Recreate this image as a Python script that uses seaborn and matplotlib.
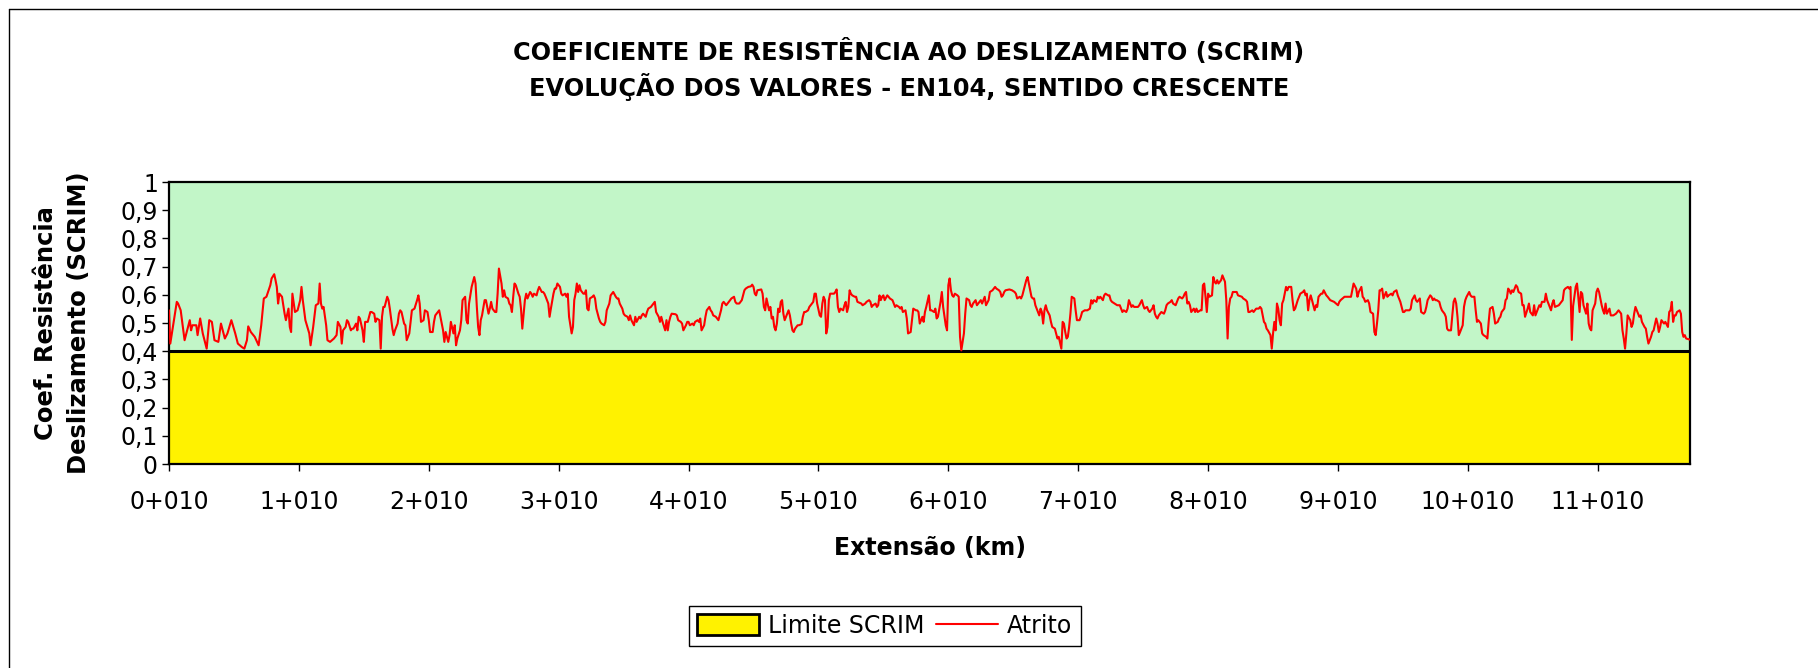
import matplotlib
matplotlib.use("Agg")
import matplotlib.pyplot as plt
from matplotlib.lines import Line2D
from matplotlib.patches import Patch
import pandas as pd
import seaborn as sns

# Chart texts
TITLE_1 = "COEFICIENTE DE RESISTÊNCIA AO DESLIZAMENTO (SCRIM)"
TITLE_2 = "EVOLUÇÃO DOS VALORES - EN104, SENTIDO CRESCENTE"
Y_LABEL = "Coef. Resistência\nDeslizamento (SCRIM)"
X_LABEL = "Extensão (km)"

# SCRIM threshold (yellow area)
LIMITE_SCRIM = 0.4

# Chainage (m) of the readings
chainage_m = [
    10, 20, 70, 80, 100, 130, 170, 180, 190, 220,
    230, 250, 270, 300, 320, 340, 360, 390, 410, 440,
    460, 490, 520, 540, 570, 590, 610, 620, 640, 670,
    700, 720, 740, 760, 790, 800, 820, 830, 840, 850,
    860, 880, 900, 910, 930, 940, 950, 960, 980, 1000,
    1020, 1030, 1040, 1050, 1060,
    1090, 1100, 1120, 1140, 1160, 1170, 1180, 1190, 1200, 1220,
    1230, 1250, 1280, 1300, 1310, 1330, 1340, 1350, 1370, 1380,
    1390, 1410, 1420, 1430, 1450, 1460, 1470, 1480, 1500, 1510,
    1520, 1540, 1560, 1570, 1590, 1600, 1610, 1630, 1640, 1650,
    1660, 1670, 1690, 1700, 1710, 1730, 1740, 1750, 1770, 1780,
    1790, 1800, 1820, 1830, 1840, 1860, 1880, 1900, 1920, 1930,
    1940, 1950, 1970, 1980, 2000, 2010, 2020, 2040, 2050, 2060,
    2070, 2090, 2100, 2120, 2130, 2140,
    2160, 2170, 2180, 2200, 2210, 2220, 2230, 2250, 2260, 2270,
    2290, 2300, 2310, 2320, 2340, 2360, 2370, 2380, 2390, 2400,
    2410, 2420, 2440, 2450, 2470, 2480, 2490, 2500, 2520, 2530,
    2540, 2550, 2570, 2580, 2590, 2600, 2620, 2630, 2640, 2650,
    2660, 2670, 2680, 2700, 2710, 2720, 2730, 2750, 2760, 2770,
    2790, 2800, 2810, 2820, 2840, 2850, 2860, 2880, 2890, 2900,
    2910, 2930, 2940, 2950, 2970, 2980, 2990, 3000, 3020, 3030,
    3040, 3060, 3070, 3080, 3090, 3110, 3120, 3130, 3140, 3150,
    3160, 3170, 3180, 3200, 3210,
    3220, 3230, 3240, 3250, 3270, 3280, 3290, 3300, 3320, 3330,
    3340, 3360, 3370, 3380, 3400, 3410, 3420, 3430, 3450, 3460,
    3470, 3480, 3500, 3510, 3520, 3540, 3550, 3560, 3570, 3590,
    3600, 3610, 3630, 3640, 3650, 3660, 3680, 3690, 3700, 3720,
    3730, 3740, 3750, 3760, 3780, 3790, 3800, 3810, 3830, 3840,
    3850, 3860, 3870, 3880, 3910, 3920, 3930, 3950, 3960, 3970,
    3990, 4000, 4010, 4020, 4040, 4050, 4060, 4080, 4090, 4100,
    4110, 4130, 4140, 4150, 4170, 4180, 4190, 4200, 4220, 4230,
    4240, 4260, 4270, 4280,
    4300, 4310, 4320, 4340, 4360, 4370, 4380, 4400, 4420, 4440,
    4450, 4470, 4490, 4500, 4510, 4520, 4530, 4540, 4570, 4580,
    4590, 4600, 4610, 4630, 4640, 4650, 4660, 4670, 4680, 4690,
    4700, 4710, 4720, 4730, 4740, 4750, 4770, 4780, 4790, 4800,
    4810, 4820, 4830, 4850, 4860, 4880, 4890, 4900, 4910, 4930,
    4940, 4950, 4970, 4980, 4990, 5000, 5020, 5030, 5040, 5050,
    5060, 5070, 5080, 5090, 5100, 5130, 5140, 5150, 5160, 5170,
    5180, 5200, 5210, 5220, 5230, 5240, 5250, 5260, 5270, 5290,
    5300, 5310, 5340, 5350,
    5370, 5380, 5400, 5410, 5420, 5430, 5450, 5460, 5470, 5480,
    5490, 5500, 5510, 5520, 5540, 5550, 5560, 5580, 5590, 5600,
    5610, 5630, 5640, 5650, 5660, 5680, 5690, 5700, 5720, 5730,
    5740, 5760, 5770, 5780, 5790, 5810, 5820, 5830, 5840, 5860,
    5870, 5880, 5900, 5910, 5920, 5930, 5950, 5960, 5970, 5990,
    6000, 6010, 6020, 6030, 6040, 6050, 6060, 6080, 6090, 6100,
    6110, 6130, 6140, 6150, 6170, 6180, 6190, 6200, 6220, 6230,
    6240, 6260, 6270, 6280, 6290, 6300, 6320, 6330, 6350, 6360,
    6370, 6380, 6400, 6410, 6420,
    6430, 6440, 6450, 6480, 6500, 6520, 6530, 6540, 6560, 6570,
    6580, 6590, 6610, 6620, 6630, 6640, 6650, 6660, 6670, 6680,
    6700, 6710, 6720, 6730, 6740, 6750, 6760, 6770, 6790, 6800,
    6810, 6830, 6840, 6850, 6860, 6880, 6890, 6900, 6910, 6920,
    6930, 6940, 6950, 6960, 6980, 6990, 7000, 7020, 7030, 7040,
    7060, 7080, 7100, 7110, 7120, 7130, 7150, 7160, 7170, 7180,
    7200, 7210, 7220, 7240, 7250, 7260, 7270, 7290, 7310, 7330,
    7340, 7350, 7360, 7380, 7390, 7400, 7420, 7430, 7440, 7470,
    7480, 7500,
    7510, 7520, 7540, 7550, 7560, 7580, 7590, 7600, 7610, 7620,
    7630, 7640, 7650, 7670, 7680, 7690, 7700, 7720, 7730, 7740,
    7760, 7770, 7780, 7790, 7810, 7820, 7830, 7840, 7850, 7860,
    7870, 7880, 7900, 7910, 7920, 7930, 7950, 7960, 7970, 7980,
    7990, 8000, 8010, 8020, 8040, 8050, 8060, 8070, 8080, 8090,
    8110, 8120, 8130, 8140, 8150, 8160, 8170, 8180, 8190, 8200,
    8230, 8240, 8270, 8280, 8300, 8310, 8320, 8330, 8350, 8360,
    8370, 8380, 8400, 8410, 8420, 8440, 8450, 8460, 8470, 8490,
    8500, 8510, 8520, 8530, 8540, 8550, 8560, 8570,
    8580, 8590, 8610, 8620, 8630, 8650, 8660, 8670, 8680, 8700,
    8710, 8720, 8740, 8750, 8760, 8770, 8780, 8790, 8800, 8810,
    8830, 8840, 8850, 8860, 8880, 8890, 8900, 8920, 8930, 8950,
    8980, 9010, 9020, 9030, 9060, 9110, 9120, 9130, 9150, 9160,
    9170, 9190, 9200, 9210, 9220, 9240, 9250, 9260, 9280, 9290,
    9300, 9310, 9320, 9330, 9340, 9350, 9360, 9380, 9390, 9400,
    9420, 9430, 9440, 9460, 9470, 9480, 9490, 9510, 9520, 9530,
    9560, 9570, 9580, 9600, 9610, 9620, 9640,
    9650, 9670, 9680, 9690, 9700, 9720, 9730, 9740, 9750, 9760,
    9770, 9790, 9800, 9810, 9830, 9840, 9850, 9860, 9880, 9890,
    9900, 9910, 9920, 9930, 9940, 9950, 9970, 9980, 9990, 10000,
    10020, 10030, 10040, 10060, 10070, 10080, 10090, 10110, 10120, 10130,
    10150, 10160, 10170, 10180, 10200, 10210, 10220, 10240, 10250, 10260,
    10270, 10290, 10300, 10310, 10320, 10330, 10340, 10350, 10360, 10380,
    10390, 10400, 10420, 10430, 10440, 10450, 10470, 10480, 10490, 10510,
    10520, 10530, 10540, 10560, 10570, 10580, 10600, 10610, 10620, 10630,
    10650, 10660, 10670, 10680, 10710,
    10720, 10740, 10750, 10760, 10780, 10790, 10800, 10810, 10820, 10830,
    10840, 10850, 10860, 10870, 10880, 10890, 10900, 10920, 10930, 10940,
    10950, 10960, 10970, 10990, 11000, 11010, 11020, 11040, 11050, 11060,
    11070, 11080, 11100, 11110, 11130, 11150, 11170, 11190, 11200, 11210,
    11220, 11230, 11240, 11260, 11270, 11280, 11290, 11300, 11310, 11330,
    11340, 11350, 11370, 11380, 11390, 11400, 11420, 11430, 11440, 11460,
    11470, 11480, 11490, 11500, 11520, 11530, 11550, 11560, 11570, 11580,
    11590, 11600, 11610, 11620, 11640, 11650, 11660, 11670, 11680, 11690,
    11720,
]

# "Atrito" readings (friction coefficient), same order as chainage_m
atrito = [
    .545, .427, .575, .569, .545, .439, .510, .474, .492, .492,
    .457, .516, .463, .409, .510, .504, .439, .433, .498, .445,
    .463, .510, .463, .427, .415, .409, .439, .488, .468, .451,
    .421, .492, .587, .593, .634, .658, .673, .652, .628, .569,
    .604, .593, .533, .510, .551, .486, .468, .604, .539, .545,
    .581, .628, .581, .545, .510,
    .463, .421, .486, .563, .569, .640, .569, .551, .557, .492,
    .439, .433, .445, .457, .504, .486, .427, .474, .486, .510,
    .504, .474, .480, .480, .498, .474, .522, .516, .474, .433,
    .504, .504, .539, .539, .533, .504, .516, .510, .409, .522,
    .557, .557, .593, .581, .551, .480, .457, .474, .498, .533,
    .545, .539, .498, .492, .439, .463, .545, .551, .581, .598,
    .569, .504, .510, .545, .539, .510, .468, .468, .504, .527,
    .533, .545, .522, .474, .433, .468,
    .433, .457, .504, .463, .492, .421, .445, .474, .510, .581,
    .593, .510, .498, .569, .628, .663, .640, .557, .486, .457,
    .510, .527, .581, .581, .533, .551, .575, .551, .539, .539,
    .604, .693, .640, .593, .616, .593, .587, .569, .563, .539,
    .593, .640, .634, .604, .593, .551, .480, .581, .604, .587,
    .610, .604, .593, .604, .598, .616, .628, .610, .610, .604,
    .593, .569, .522, .551, .604, .622, .622, .640, .628, .604,
    .598, .604, .593, .604, .522, .463, .486, .581, .604, .640,
    .610, .634, .616, .604, .604,
    .616, .551, .545, .587, .593, .598, .587, .551, .516, .504,
    .498, .492, .504, .545, .569, .598, .604, .610, .593, .587,
    .587, .569, .551, .533, .527, .522, .510, .527, .510, .492,
    .522, .504, .522, .516, .527, .533, .522, .539, .551, .557,
    .563, .569, .575, .539, .522, .504, .522, .504, .474, .510,
    .474, .504, .522, .533, .531, .527, .510, .504, .498, .474,
    .492, .504, .504, .492, .498, .492, .504, .510, .504, .516,
    .474, .492, .522, .545, .557, .545, .539, .527, .522, .516,
    .510, .545, .569, .575,
    .563, .569, .575, .587, .593, .575, .569, .569, .581, .616,
    .622, .628, .630, .636, .628, .604, .598, .616, .619, .604,
    .557, .545, .587, .545, .557, .516, .522, .486, .474, .498,
    .551, .539, .575, .581, .533, .510, .533, .545, .527, .498,
    .474, .468, .480, .492, .492, .496, .522, .539, .539, .545,
    .557, .563, .575, .604, .604, .569, .527, .522, .569, .593,
    .581, .463, .486, .581, .604, .604, .610, .619, .557, .539,
    .551, .545, .563, .575, .539, .557, .616, .604, .598, .593,
    .593, .575, .569, .563,
    .569, .575, .581, .575, .557, .563, .569, .557, .563, .598,
    .581, .593, .598, .581, .598, .593, .587, .581, .569, .557,
    .563, .557, .551, .557, .539, .545, .516, .463, .468, .510,
    .551, .545, .545, .539, .498, .522, .504, .539, .557, .598,
    .545, .545, .539, .551, .516, .522, .575, .610, .557, .492,
    .474, .634, .658, .616, .598, .593, .604, .598, .593, .451,
    .403, .463, .533, .587, .581, .563, .557, .569, .581, .563,
    .569, .581, .569, .581, .593, .563, .581, .610, .616, .622,
    .628, .622, .616, .610, .593,
    .598, .610, .616, .619, .616, .610, .604, .587, .593, .587,
    .598, .616, .652, .663, .640, .616, .593, .587, .587, .563,
    .539, .527, .551, .539, .498, .545, .563, .545, .527, .504,
    .486, .480, .463, .445, .451, .409, .504, .498, .468, .445,
    .451, .486, .533, .593, .587, .545, .510, .510, .522, .539,
    .545, .545, .551, .581, .569, .581, .575, .593, .587, .593,
    .581, .598, .604, .598, .598, .581, .575, .569, .563, .563,
    .551, .539, .545, .539, .551, .581, .557, .563, .557, .557,
    .563, .581,
    .563, .551, .557, .545, .539, .551, .563, .533, .522, .516,
    .527, .533, .539, .533, .545, .563, .569, .575, .581, .569,
    .563, .575, .587, .593, .587, .593, .604, .610, .569, .575,
    .563, .539, .551, .539, .551, .539, .545, .545, .634, .640,
    .593, .539, .604, .593, .598, .663, .646, .640, .652, .640,
    .652, .669, .658, .646, .581, .445, .557, .587, .593, .610,
    .610, .598, .593, .587, .581, .575, .539, .539, .545, .539,
    .545, .551, .551, .557, .551, .504, .498, .480, .474, .457,
    .409, .463, .504, .474, .569, .551, .510, .492,
    .569, .581, .628, .616, .628, .628, .581, .545, .551, .581,
    .593, .604, .610, .616, .598, .604, .545, .581, .598, .581,
    .545, .563, .557, .593, .604, .604, .616, .598, .593, .581,
    .575, .563, .575, .581, .593, .593, .616, .640, .622, .593,
    .610, .628, .593, .587, .575, .581, .569, .539, .533, .468,
    .457, .498, .545, .616, .616, .622, .587, .610, .593, .598,
    .604, .598, .610, .616, .598, .587, .575, .539, .539, .545,
    .545, .551, .581, .598, .581, .575, .587,
    .539, .533, .539, .557, .581, .598, .593, .581, .587, .581,
    .581, .575, .557, .545, .533, .522, .480, .474, .474, .527,
    .575, .587, .569, .522, .457, .468, .492, .557, .581, .593,
    .610, .598, .593, .593, .545, .504, .510, .498, .463, .457,
    .451, .445, .504, .551, .557, .533, .498, .504, .516, .522,
    .539, .551, .581, .587, .622, .616, .604, .616, .610, .634,
    .628, .610, .604, .563, .563, .522, .551, .569, .539, .527,
    .563, .527, .539, .563, .557, .575, .575, .604, .581, .569,
    .545, .569, .581, .557, .563,
    .569, .581, .616, .622, .628, .622, .628, .440, .560, .593,
    .628, .640, .593, .539, .610, .604, .563, .533, .569, .498,
    .480, .474, .545, .569, .610, .622, .610, .563, .545, .533,
    .569, .533, .551, .527, .527, .533, .545, .533, .474, .445,
    .409, .463, .527, .510, .486, .498, .533, .557, .545, .522,
    .527, .504, .486, .480, .451, .427, .451, .468, .474, .516,
    .498, .468, .486, .510, .498, .504, .486, .539, .545, .575,
    .504, .527, .527, .539, .545, .533, .468, .451, .457, .445,
    .441,
]

# Axis ticks and labels
x_tick_chainage = [10, 1010, 2010, 3010, 4010, 5010, 6010, 7010, 8010, 9010, 10010, 11010]
x_tick_labels = ["0+010", "1+010", "2+010", "3+010", "4+010", "5+010",
                 "6+010", "7+010", "8+010", "9+010", "10+010", "11+010"]
y_ticks = [0, 0.1, 0.2, 0.3, 0.4, 0.5, 0.6, 0.7, 0.8, 0.9, 1.0]
y_tick_labels = ["0", "0,1", "0,2", "0,3", "0,4", "0,5", "0,6", "0,7", "0,8", "0,9", "1"]

assert len(chainage_m) == len(atrito)
df = pd.DataFrame({"chainage": chainage_m, "atrito": atrito})

sns.set_theme(style="white")
plt.rcParams["font.family"] = ["DejaVu Sans"]
plt.rcParams.update({"text.color": "black", "axes.labelcolor": "black",
                     "xtick.color": "black", "ytick.color": "black"})

W, H = 1818, 668
fig = plt.figure(figsize=(W / 100, H / 100), dpi=100)
fig.patch.set_facecolor("white")
ax = fig.add_axes([169 / W, 1 - 464 / H, 1521 / W, 282 / H])
ax.set_facecolor("#C2F6C8")

# Yellow "Limite SCRIM" area and the red friction line
ax.fill_between(df["chainage"], 0, LIMITE_SCRIM, facecolor="#FFF200",
                edgecolor="none", zorder=1)
ax.axhline(LIMITE_SCRIM, color="black", lw=2.2, zorder=2)
sns.lineplot(data=df, x="chainage", y="atrito", ax=ax, color="#FF0000",
             lw=1.5, zorder=3, legend=False)

ax.set_xlim(df["chainage"].min(), df["chainage"].max())
ax.set_ylim(0, 1)
for side in ["left", "right", "top", "bottom"]:
    ax.spines[side].set_color("black")
    ax.spines[side].set_linewidth(1.6)

ax.set_xticks(x_tick_chainage, x_tick_labels, fontsize=17)
ax.set_yticks(y_ticks, y_tick_labels, fontsize=17)
ax.tick_params(direction="out", length=5, width=1, color="black",
               labelcolor="black", bottom=True, left=True)
ax.tick_params(axis="x", pad=14)
ax.tick_params(axis="y", pad=3)

ax.set_xlabel(X_LABEL, fontsize=17, fontweight="bold", va="center", color="black")
ax.xaxis.set_label_coords(0.5, -0.298)
ax.set_ylabel(Y_LABEL, fontsize=17.5, fontweight="bold", va="center",
              linespacing=1.5, color="black")
ax.yaxis.set_label_coords(-0.070, 0.5)

# Title
fig.text(0.500, 1 - 52 / H, TITLE_1, ha="center", va="center",
         fontsize=17.3, fontweight="bold", color="black")
fig.text(0.500, 1 - 87 / H, TITLE_2, ha="center", va="center",
         fontsize=17.3, fontweight="bold", color="black")

# Legend
handles = [
    Patch(facecolor="#FFF200", edgecolor="black", lw=2, label="Limite SCRIM"),
    Line2D([], [], color="#FF0000", lw=1.5, label="Atrito"),
]
leg = fig.legend(handles=handles, loc="center", bbox_to_anchor=(885 / W, 1 - 626 / H),
                 ncol=2, fontsize=17, frameon=True, fancybox=False,
                 edgecolor="black", framealpha=1, handlelength=2.6,
                 handleheight=1.0, handletextpad=0.4, columnspacing=0.5,
                 borderpad=0.35)
leg.get_frame().set_linewidth(1.0)
for t in leg.get_texts():
    t.set_color("black")

# Chart-area border (left and top edges visible in the reference)
fig.add_artist(Line2D([9 / W, 9 / W], [0, 1 - 9 / H], transform=fig.transFigure,
                      color="black", lw=1))
fig.add_artist(Line2D([9 / W, 1], [1 - 9 / H, 1 - 9 / H], transform=fig.transFigure,
                      color="black", lw=1))

fig.savefig("out.png", dpi=100)
